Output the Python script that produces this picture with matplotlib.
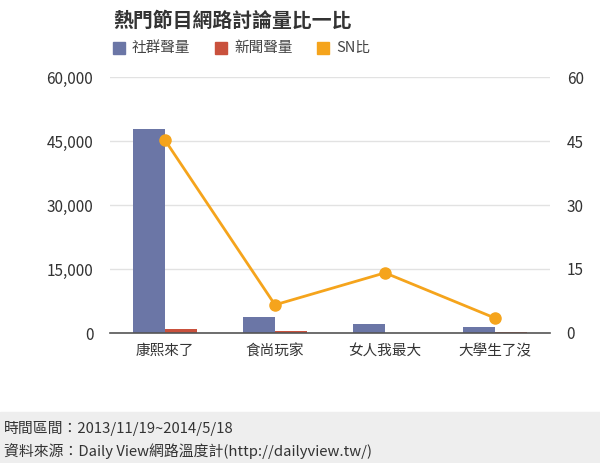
import matplotlib.pyplot as plt
import numpy as np
from matplotlib.patches import Rectangle

plt.rcParams['font.family'] = ['Noto Sans CJK TC', 'DejaVu Sans']

categories = ['康熙來了', '食尚玩家', '女人我最大', '大學生了沒']
social = [47800, 3700, 2100, 1350]
news = [950, 450, 50, 350]
sn_ratio = [45.2, 6.6, 14.1, 3.5]

blue = '#6B76A6'
red = '#C9513D'
orange = '#F5A41C'

fig = plt.figure(figsize=(6, 4.63), dpi=100)
W, H = 600, 463
ax = fig.add_axes([110 / W, 1 - 333 / H, 440 / W, 256 / H])
ax2 = ax.twinx()

x = np.arange(len(categories))
bw = 0.29
ax.bar(x - bw / 2, social, bw, color=blue, zorder=2)
ax.bar(x + bw / 2, news, bw, color=red, zorder=2)
ax.set_xlim(-0.5, 3.5)
ax.set_ylim(0, 60000)
ax.set_yticks([0, 15000, 30000, 45000, 60000])
ax.set_yticklabels(['0', '15,000', '30,000', '45,000', '60,000'])
ax.set_xticks(x)
ax.set_xticklabels(categories)
ax.grid(axis='y', color='#e2e2e2', linewidth=1, zorder=0)
ax.tick_params(length=0, labelsize=11, colors='#333333', pad=12)
ax.tick_params(axis='x', labelsize=10.5, pad=8)
for s in ['top', 'right', 'left']:
    ax.spines[s].set_visible(False)
ax.spines['bottom'].set_color('#555555')
ax.spines['bottom'].set_linewidth(1.2)

ax2.plot(x, sn_ratio, color=orange, linewidth=2, marker='o', markersize=8, zorder=3)
ax2.set_ylim(0, 60)
ax2.set_yticks([0, 15, 30, 45, 60])
ax2.tick_params(length=0, labelsize=11, colors='#333333', pad=12)
for s in ax2.spines.values():
    s.set_visible(False)

# title and legend
fig.text(113 / W, 1 - 20 / H, '熱門節目網路討論量比一比', fontsize=14.3, fontweight='bold',
         color='#333333', va='center')
legend_items = [(113, blue, '社群聲量'), (215, red, '新聞聲量'), (317, orange, 'SN比')]
for lx, c, lab in legend_items:
    fig.patches.append(Rectangle((lx / W, 1 - 54 / H), 12 / W, 12 / H, color=c,
                                 transform=fig.transFigure, figure=fig))
    fig.text((lx + 19) / W, 1 - 48 / H, lab, fontsize=10.5, color='#444444', va='center')

# footer
fig.patches.append(Rectangle((0, 0), 1, 1 - 412 / H, color='#eeeeee',
                             transform=fig.transFigure, figure=fig, zorder=0))
fig.text(4 / W, 1 - 428 / H, '時間區間：2013/11/19~2014/5/18', fontsize=10.7,
         color='#333333', va='center')
fig.text(4 / W, 1 - 451 / H, '資料來源：Daily View網路溫度計(http://dailyview.tw/)',
         fontsize=10.7, color='#333333', va='center')

fig.savefig('out.png', dpi=100)
